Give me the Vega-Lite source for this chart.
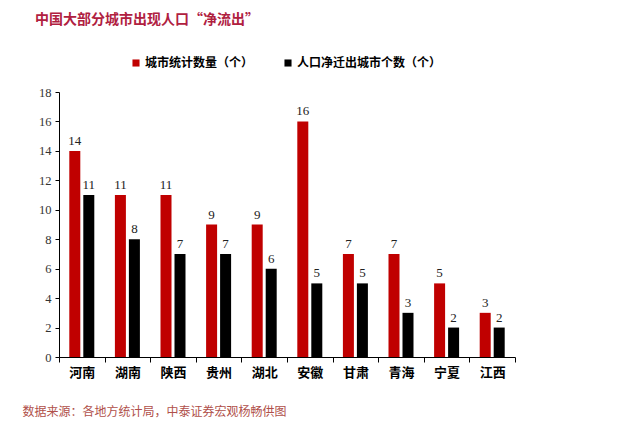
{
  "$schema": "https://vega.github.io/schema/vega-lite/v6.json",
  "width": 456,
  "height": 265,
  "autosize": "none",
  "padding": {"left": 59, "top": 92, "right": 125, "bottom": 69},
  "background": "white",
  "title": {
    "text": "中国大部分城市出现人口“净流出”",
    "anchor": "start",
    "frame": "group",
    "dx": -24,
    "offset": 30,
    "fontSize": 14,
    "fontWeight": "bold",
    "color": "#B0203F",
    "font": "Noto Sans CJK SC"
  },
  "data": {
    "values": [
      {"province": "河南", "series": "城市统计数量（个）", "value": 14},
      {"province": "河南", "series": "人口净迁出城市个数（个）", "value": 11},
      {"province": "湖南", "series": "城市统计数量（个）", "value": 11},
      {"province": "湖南", "series": "人口净迁出城市个数（个）", "value": 8},
      {"province": "陕西", "series": "城市统计数量（个）", "value": 11},
      {"province": "陕西", "series": "人口净迁出城市个数（个）", "value": 7},
      {"province": "贵州", "series": "城市统计数量（个）", "value": 9},
      {"province": "贵州", "series": "人口净迁出城市个数（个）", "value": 7},
      {"province": "湖北", "series": "城市统计数量（个）", "value": 9},
      {"province": "湖北", "series": "人口净迁出城市个数（个）", "value": 6},
      {"province": "安徽", "series": "城市统计数量（个）", "value": 16},
      {"province": "安徽", "series": "人口净迁出城市个数（个）", "value": 5},
      {"province": "甘肃", "series": "城市统计数量（个）", "value": 7},
      {"province": "甘肃", "series": "人口净迁出城市个数（个）", "value": 5},
      {"province": "青海", "series": "城市统计数量（个）", "value": 7},
      {"province": "青海", "series": "人口净迁出城市个数（个）", "value": 3},
      {"province": "宁夏", "series": "城市统计数量（个）", "value": 5},
      {"province": "宁夏", "series": "人口净迁出城市个数（个）", "value": 2},
      {"province": "江西", "series": "城市统计数量（个）", "value": 3},
      {"province": "江西", "series": "人口净迁出城市个数（个）", "value": 2}
    ]
  },
  "encoding": {
    "x": {
      "field": "province",
      "type": "nominal",
      "sort": null,
      "scale": {"paddingInner": 0, "paddingOuter": 0},
      "axis": {
        "title": "数据来源：各地方统计局，中泰证券宏观杨畅供图",
        "titleAnchor": "start",
        "titleAlign": "left",
        "titleBaseline": "middle",
        "titleX": -37,
        "titleY": 54,
        "titleFont": "Noto Sans CJK SC",
        "titleFontSize": 12,
        "titleFontWeight": "normal",
        "titleColor": "#B0504A",
        "labelAngle": 0,
        "labelFont": "Noto Sans CJK SC",
        "labelFontSize": 13,
        "labelFontWeight": "bold",
        "labelColor": "#000000",
        "labelPadding": 4,
        "tickBand": "extent",
        "tickSize": 5,
        "tickColor": "#000000",
        "domainColor": "#000000",
        "grid": false
      }
    },
    "xOffset": {
      "field": "series",
      "type": "nominal",
      "sort": ["城市统计数量（个）", "人口净迁出城市个数（个）"],
      "scale": {"paddingInner": 0.214, "paddingOuter": 0.736}
    },
    "y": {
      "field": "value",
      "type": "quantitative",
      "scale": {"domain": [0, 18]},
      "axis": {
        "title": null,
        "values": [0, 2, 4, 6, 8, 10, 12, 14, 16, 18],
        "grid": false,
        "labelFont": "Liberation Serif",
        "labelFontSize": 12.5,
        "labelColor": "#333333",
        "labelPadding": 4,
        "tickSize": 4,
        "tickColor": "#000000",
        "domainColor": "#000000"
      }
    }
  },
  "layer": [
    {
      "mark": {"type": "bar"},
      "encoding": {
        "color": {
          "field": "series",
          "type": "nominal",
          "sort": ["城市统计数量（个）", "人口净迁出城市个数（个）"],
          "scale": {"domain": ["城市统计数量（个）", "人口净迁出城市个数（个）"], "range": ["#C00000", "#000000"]},
          "legend": {
            "title": null,
            "orient": "none",
            "direction": "horizontal",
            "legendX": 71,
            "legendY": -35,
            "symbolType": "square",
            "symbolSize": 50,
            "symbolStrokeWidth": 0,
            "labelFont": "Noto Sans CJK SC",
            "labelFontSize": 12,
            "labelFontWeight": "bold",
            "labelColor": "#000000",
            "labelOffset": 3,
            "columnPadding": 28
          }
        }
      }
    },
    {
      "mark": {"type": "text", "dy": -10, "font": "Liberation Serif", "fontSize": 13, "color": "#222222"},
      "encoding": {
        "text": {"field": "value", "type": "quantitative"}
      }
    }
  ],
  "config": {
    "view": {"stroke": null}
  }
}
